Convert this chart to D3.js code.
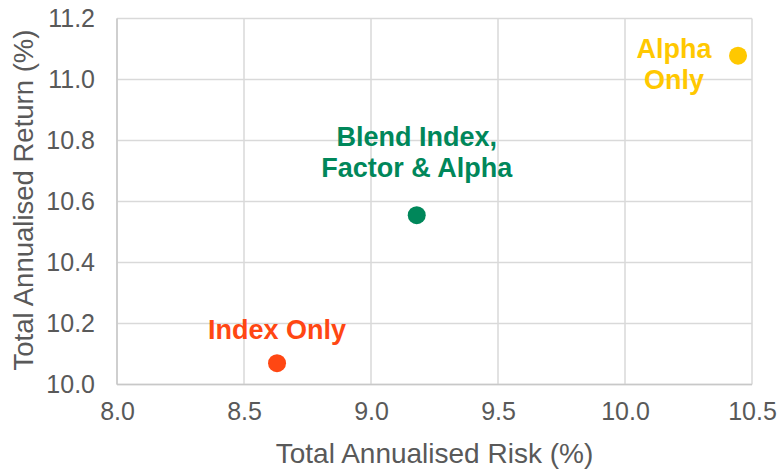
<!DOCTYPE html>
<html><head><meta charset="utf-8">
<script src="https://cdn.jsdelivr.net/npm/d3@7"></script>
<style>body{margin:0;background:#fff;} svg{display:block;}</style>
</head><body>
<svg id="c" width="780" height="470"></svg>
<script>
const names = ["Index Only", "Blend Index, Factor & Alpha", "Alpha Only"];
const risk = [8.63, 9.18, 10.445];
const ret = [10.07, 10.555, 11.078];
const colors = ["#ff4713", "#00875a", "#ffc800"];
const labelLines = [["Index Only"], ["Blend Index,", "Factor & Alpha"], ["Alpha", "Only"]];
const xTicks = [8.0, 8.5, 9.0, 9.5, 10.0, 10.5];
const yTicks = [10.0, 10.2, 10.4, 10.6, 10.8, 11.0, 11.2];
const xTitle = "Total Annualised Risk (%)";
const yTitle = "Total Annualised Return (%)";

const svg = d3.select("#c");
const m = {l:117, r:752, t:18.5, b:384.5};
const x = d3.scaleLinear().domain([8.0, 10.5]).range([m.l, m.r]);
const y = d3.scaleLinear().domain([10.0, 11.2]).range([m.b, m.t]);
const font = "'Liberation Sans', Arial, sans-serif";
const grid = "#d9d9d9";

// gridlines
svg.append("g").selectAll("line").data(xTicks).join("line")
  .attr("x1", d=>x(d)).attr("x2", d=>x(d)).attr("y1", m.t).attr("y2", m.b)
  .attr("stroke", grid).attr("stroke-width", 1.5);
svg.append("g").selectAll("line").data(yTicks).join("line")
  .attr("y1", d=>y(d)).attr("y2", d=>y(d)).attr("x1", m.l).attr("x2", m.r)
  .attr("stroke", grid).attr("stroke-width", 1.5);
// axes lines
svg.append("line").attr("x1", m.l).attr("x2", m.l).attr("y1", m.t).attr("y2", m.b).attr("stroke", "#c8c8c8").attr("stroke-width", 1.5);
svg.append("line").attr("x1", m.l).attr("x2", m.r).attr("y1", m.b).attr("y2", m.b).attr("stroke", "#c8c8c8").attr("stroke-width", 1.5);

// axes tick labels
const xa = svg.append("g").attr("transform", `translate(0,${m.b})`)
  .call(d3.axisBottom(x).tickValues(xTicks).tickFormat(d3.format(".1f")).tickSize(0).tickPadding(18));
const ya = svg.append("g").attr("transform", `translate(${m.l},0)`)
  .call(d3.axisLeft(y).tickValues(yTicks).tickFormat(d3.format(".1f")).tickSize(0).tickPadding(22));
[xa, ya].forEach(a => {
  a.select(".domain").remove();
  a.selectAll("text").attr("font-family", font).attr("font-size", 25).attr("fill", "#595959");
});

// titles
svg.append("text").attr("x", (m.l+m.r)/2).attr("y", 463).attr("text-anchor", "middle")
  .attr("font-family", font).attr("font-size", 28).attr("fill", "#595959").text(xTitle);
svg.append("text").attr("transform", `translate(33,200) rotate(-90)`).attr("text-anchor", "middle")
  .attr("font-family", font).attr("font-size", 27.5).attr("fill", "#595959").text(yTitle);

// points
svg.append("g").selectAll("circle").data(names).join("circle")
  .attr("cx", (d,i)=>x(risk[i])).attr("cy", (d,i)=>y(ret[i])).attr("r", 9)
  .attr("fill", (d,i)=>colors[i]);

// labels (offsets relative to points)
const offs = [[0, -24], [0, -69], [-64, 2]];
names.forEach((n,i) => {
  const t = svg.append("text").attr("text-anchor", "middle")
    .attr("font-family", font).attr("font-weight", "bold").attr("font-size", 27)
    .attr("fill", colors[i]);
  labelLines[i].forEach((ln,j) => {
    t.append("tspan").attr("x", x(risk[i]) + offs[i][0]).attr("y", y(ret[i]) + offs[i][1] + j*31).text(ln);
  });
});
</script>
</body></html>
